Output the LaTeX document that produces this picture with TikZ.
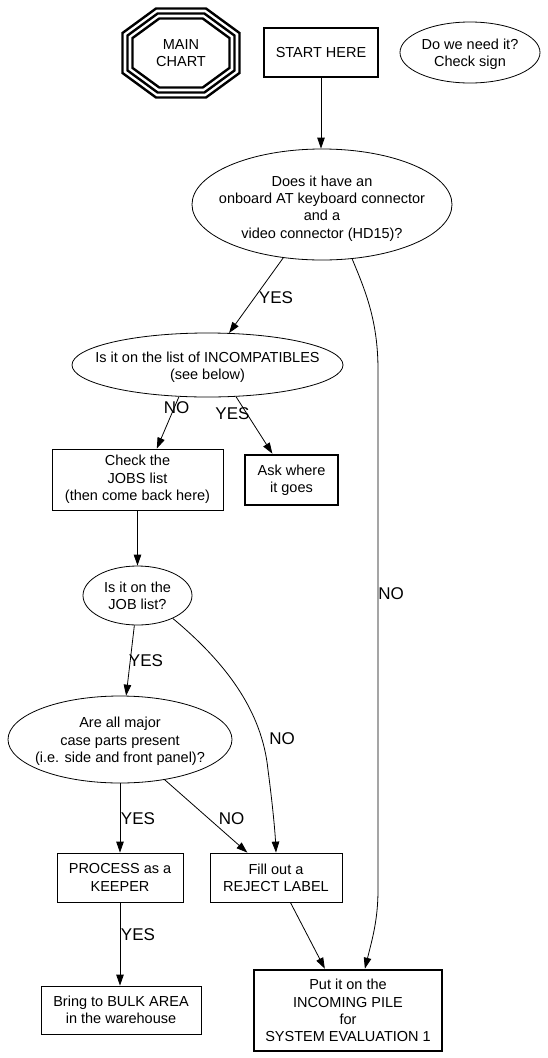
\documentclass[tikz,border=0pt]{standalone}
\usepackage{fontspec}
\setmainfont{Liberation Sans}
\usetikzlibrary{arrows.meta,shapes.geometric}
\begin{document}
\begin{tikzpicture}[x=1pt,y=-1pt,
 txt/.style={font=\fontsize{14.5}{17.3}\selectfont, align=center, inner sep=0pt},
 lbl/.style={font=\fontsize{17}{20}\selectfont, inner sep=0pt},
 box/.style={draw, line width=0.8pt, rectangle, inner sep=0pt, txt},
 bbox/.style={box, line width=2.6pt},
 oval/.style={draw, line width=0.8pt, ellipse, inner sep=0pt},
 edge/.style={line width=0.8pt, -{Triangle[length=11pt,width=7.5pt]}},
 oct/.style={line width=2.4pt, line join=miter}]
\path[use as bounding box] (0,0) rectangle (547,1058);

% triple octagon
\node[txt] (main) at (181,53) {MAIN\\CHART};
\foreach \X/\S/\T/\H in {58.5/20/25/44.5, 53.5/17.46/23.37/39.5, 48.5/14.93/21.73/34.5}
  \draw[oct] ([shift={(-\X,-\S)}]main.center) -- ([shift={(-\X,\S)}]main.center)
    -- ([shift={(-\T,\H)}]main.center) -- ([shift={(\T,\H)}]main.center)
    -- ([shift={(\X,\S)}]main.center) -- ([shift={(\X,-\S)}]main.center)
    -- ([shift={(\T,-\H)}]main.center) -- ([shift={(-\T,-\H)}]main.center) -- cycle;

% nodes
\node[bbox, minimum width=114pt, minimum height=49pt] (start) at (321,52.5) {START HERE};
\node[oval, minimum width=140pt, minimum height=61pt] (need) at (470,52.5) {};
\node[txt] (needt) at (470,54) {Do we need it?\\Check sign};

\node[oval, minimum width=260pt, minimum height=111pt] (big) at (322,204.5) {};
\node[txt] (bigt) at (322,208.5) {Does it have an\\onboard AT keyboard connector\\and a\\video connector (HD15)?};

\node[oval, minimum width=271pt, minimum height=64pt] (incomp) at (207.5,365) {};
\node[txt] (incompt) at (207.5,367) {Is it on the list of INCOMPATIBLES\\(see below)};

\node[box, minimum width=171pt, minimum height=61pt] (jobs) at (137.5,479.5) {Check the\\JOBS list\\(then come back here)};
\node[bbox, minimum width=93pt, minimum height=50pt] (ask) at (291.5,480) {Ask where\\it goes};

\node[oval, minimum width=109pt, minimum height=59pt] (joblist) at (137.5,595.5) {};
\node[txt] (joblistt) at (137.5,595.5) {Is it on the\\JOB list?};

\node[oval, minimum width=224pt, minimum height=87pt] (allparts) at (120,739.5) {};
\node[txt] (allpartst) at (120,741.5) {Are all major\\case parts present\\(i.e. side and front panel)?};

\node[box, minimum width=126pt, minimum height=49pt] (keeper) at (120,877.5) {PROCESS as a\\KEEPER};
\node[box, minimum width=132pt, minimum height=49pt] (reject) at (276,877.5) {Fill out a\\REJECT LABEL};
\node[box, minimum width=160pt, minimum height=48pt] (bulk) at (121,1010) {Bring to BULK AREA\\in the warehouse};
\node[bbox, minimum width=188pt, minimum height=81pt] (incoming) at (348,1010.5) {Put it on the\\INCOMING PILE\\for\\SYSTEM EVALUATION 1};

% edge labels
\node[lbl] (l1) at (276,298) {YES};
\node[lbl] (l2) at (391,594) {NO};
\node[lbl] (l3) at (176.5,408) {NO};
\node[lbl] (l4) at (232.5,414) {YES};
\node[lbl] (l5) at (146,661) {YES};
\node[lbl] (l6) at (282,739) {NO};
\node[lbl] (l7) at (138,819) {YES};
\node[lbl] (l8) at (231.5,819) {NO};
\node[lbl] (l9) at (138,935) {YES};

% edges
\draw[edge] (start.south) -- (start.south |- big.north);
\draw[edge] (big.234) -- (incomp.56);
\draw[edge] (big.-61) .. controls (365,290) and (378,320) .. (378,370)
  -- (378,890) .. controls (378,920) and (372,940) .. (incoming.68.4);
\draw[edge] (incomp.228) -- (jobs.58);
\draw[edge] (incomp.-48) -- (ask.126.5);
\draw[edge] (jobs.south) -- (jobs.south |- joblist.north);
\draw[edge] (joblist.-96) -- (allparts.82);
\draw[edge] (joblist.-33.5) .. controls (225,662) and (262,710) .. (268,770)
  .. controls (272,800) and (275,830) .. (reject.north);
\draw[edge] (allparts.south) -- (keeper.north);
\draw[edge] (allparts.-42) -- (reject.139);
\draw[edge] (keeper.south) -- (bulk.north -| keeper.south);
\draw[edge] (reject.-60) -- (incoming.119.6);
\end{tikzpicture}
\end{document}
